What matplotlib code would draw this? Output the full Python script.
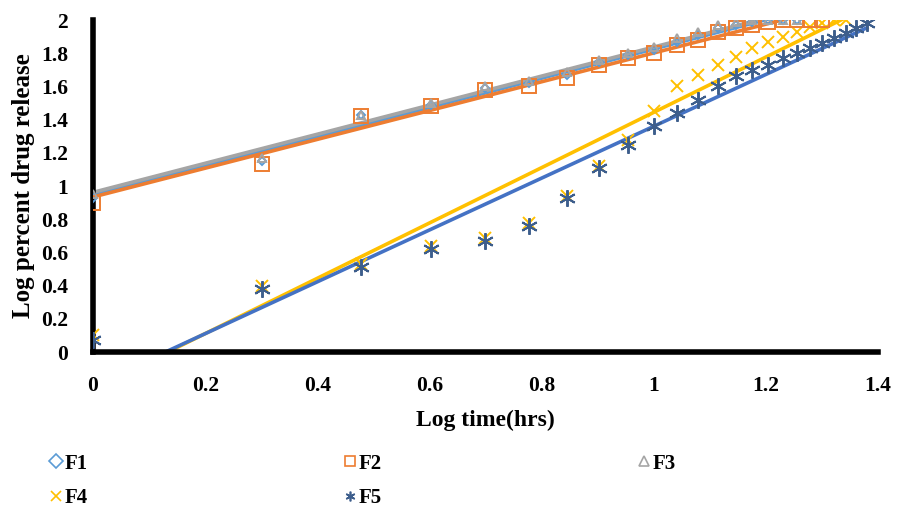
import numpy as np
import matplotlib
matplotlib.use("Agg")
import matplotlib.pyplot as plt

# hours sampled, plotted as log10(time)
hours = np.arange(1, 25)
log_t = np.log10(hours)

# log percent drug release
f1 = [0.93, 1.15, 1.43, 1.49, 1.59, 1.62, 1.67, 1.75, 1.79, 1.82, 1.87, 1.91, 1.95, 1.97, 1.99, 2.00, 2.00, 2.00]
f2 = [0.90, 1.13, 1.42, 1.48, 1.58, 1.60, 1.65, 1.73, 1.77, 1.80, 1.85, 1.88, 1.93, 1.95, 1.97, 1.99, 2.00, 2.00, 2.00, 2.00]
f3 = [0.95, 1.17, 1.43, 1.50, 1.60, 1.63, 1.69, 1.76, 1.80, 1.84, 1.89, 1.93, 1.97, 1.99, 2.00, 2.00, 2.00, 2.00]
f4 = [0.10, 0.40, 0.53, 0.64, 0.69, 0.78, 0.94, 1.12, 1.28, 1.45, 1.60, 1.67, 1.73, 1.78, 1.83, 1.87, 1.90, 1.93, 1.96, 1.98, 2.00, 2.00]
f5 = [0.07, 0.38, 0.51, 0.62, 0.67, 0.76, 0.93, 1.11, 1.25, 1.36, 1.44, 1.52, 1.60, 1.66, 1.70, 1.73, 1.77, 1.80, 1.83, 1.86, 1.89, 1.92, 1.95, 1.98]

names = ["F1", "F2", "F3", "F4", "F5"]
series = [f1, f2, f3, f4, f5]
line_colors = ["#5B9BD5", "#ED7D31", "#A5A5A5", "#FFC000", "#4472C4"]
mark_colors = ["#5B9BD5", "#ED7D31", "#A5A5A5", "#FFC000", "#3D5E8C"]
markers = ["D", "s", "^", "x", (6, 2, 0)]
msizes = [4, 10, 6, 9, 12]
mz = [3, 4, 5, 3, 4]

serif = ["Liberation Serif", "DejaVu Serif"]

fig = plt.figure(figsize=(8.98, 5.14), dpi=100)
ax = fig.add_axes([0.1036, 0.315, 0.874, 0.646])

handles = {}
for name, y, lc, mc, m, ms, z in zip(names, series, line_colors, mark_colors, markers, msizes, mz):
    x = log_t[:len(y)]
    y = np.array(y)
    # excel style linear trendline over the data's x range
    k, b = np.polyfit(x, y, 1)
    xx = np.array([0, x[-1]])
    ax.plot(xx, k * xx + b, color=lc, lw=2.6, zorder=2)
    filled = m in ("x", (6, 2, 0))
    h, = ax.plot(x, y, ls="none", marker=m, ms=ms, mec=mc,
                 mfc=mc if filled else "none", mew=1.4, zorder=z)
    handles[name] = h

ax.set_xlim(0, 1.4)
ax.set_ylim(0, 2)
ax.set_xticks(np.arange(0, 1.41, 0.2))
ax.set_xticklabels(["0", "0.2", "0.4", "0.6", "0.8", "1", "1.2", "1.4"])
ax.set_yticks(np.arange(0, 2.01, 0.2))
ax.set_yticklabels(["0", "0.2", "0.4", "0.6", "0.8", "1", "1.2", "1.4", "1.6", "1.8", "2"])
ax.tick_params(length=0, pad=18, labelsize=15.5)
ax.tick_params(axis="x", pad=17)
for lab in ax.get_xticklabels() + ax.get_yticklabels():
    lab.set_family(serif)
    lab.set_fontweight("bold")

for s in ["top", "right"]:
    ax.spines[s].set_visible(False)
for s in ["left", "bottom"]:
    ax.spines[s].set_linewidth(4)
    ax.spines[s].set_color("black")

ax.set_xlabel("Log time(hrs)", family=serif, fontweight="bold", fontsize=17, labelpad=10)
ax.set_ylabel("Log percent drug release", family=serif, fontweight="bold", fontsize=18, labelpad=4)

order = ["F1", "F4", "F2", "F5", "F3"]
leg_handles = []
for n in order:
    h = handles[n]
    lh, = ax.plot([], [], ls="none", marker=h.get_marker(), ms=7,
                  mec=h.get_mec(), mfc=h.get_mfc(), mew=1.2)
    leg_handles.append(lh)
fig.legend(leg_handles, order, ncol=3, loc="lower left", bbox_to_anchor=(0.035, -0.025),
           frameon=False, handlelength=0.6, handletextpad=0.1, columnspacing=12.3,
           labelspacing=0.7, prop={"family": serif, "weight": "bold", "size": 15})

fig.savefig("out.png", dpi=100)
